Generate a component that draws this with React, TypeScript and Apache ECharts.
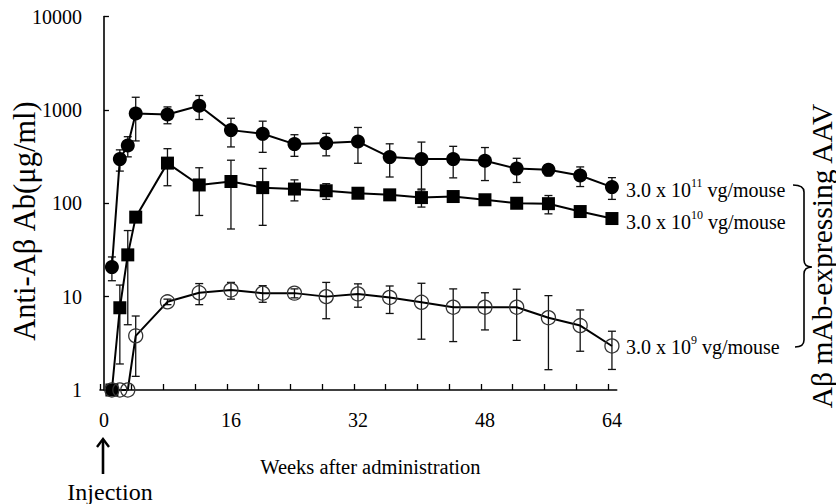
import React, { useEffect, useRef } from "react";
import * as echarts from "echarts";

const weeks = [1, 2, 3, 4, 8, 12, 16, 20, 24, 28, 32, 36, 40, 44, 48, 52, 56, 60, 64];
const highMean = [20.7, 297, 415, 915, 893, 1107, 607, 554, 430, 441, 458, 312, 297, 297, 285, 235, 228, 198, 149];
const highSD = [5.9, 76, 101, 450, 183, 318, 206, 203, 112, 119, 190, 121, 155, 110, 110, 68, 31, 47, 39];
const midMean = [1, 7.6, 28, 71, 269, 157, 171, 147, 142, 136, 128, 123, 115, 118, 109, 100, 99, 81.5, 68.6];
const midSD = [0, 5.7, 23, 5, 115, 83, 118, 89, 36, 26, 10, 8, 24, 6, 5, 5, 22, 4, 4];
const lowMean = [1, 1, 1, 3.8, 8.8, 11.0, 11.8, 10.9, 10.9, 10.0, 10.7, 9.8, 8.7, 7.7, 7.7, 7.7, 5.95, 4.9, 2.96];
const lowSD = [0, 0, 0, 2.4, 0.6, 2.8, 2.4, 2.2, 1.2, 4.2, 3.0, 3.2, 5.2, 4.4, 3.3, 4.3, 4.3, 2.3, 1.3];

const xTickLabels = [0, 16, 32, 48, 64];
const yTickLabels = [1, 10, 100, 1000, 10000];
const doseExponents = ["11", "10", "9"];
const seriesNames = ["3.0 x 10^11 vg/mouse", "3.0 x 10^10 vg/mouse", "3.0 x 10^9 vg/mouse"];
const yAxisTitle = "Anti-Aβ Ab(μg/ml)";
const xAxisTitle = "Weeks after administration";
const groupTitle = "Aβ mAb-expressing AAV";
const injectionText = "Injection";

const FONT = "'Liberation Serif', 'Times New Roman', serif";

function errData(means: number[], sds: number[]) {
  const out: number[][] = [];
  weeks.forEach((w, i) => {
    if (sds[i] > 0) out.push([w, Math.max(means[i] - sds[i], 1), means[i] + sds[i]]);
  });
  return out;
}

function errSeries(means: number[], sds: number[]) {
  return {
    type: "custom",
    data: errData(means, sds),
    encode: { x: 0, y: [1, 2] },
    clip: false,
    silent: true,
    renderItem: (params: any, api: any) => {
      const x = api.value(0);
      const lo = api.coord([x, api.value(1)]);
      const hi = api.coord([x, api.value(2)]);
      const w = 4;
      const style = { stroke: "#111", lineWidth: 1.3 };
      return {
        type: "group",
        children: [
          { type: "line", shape: { x1: lo[0], y1: lo[1], x2: hi[0], y2: hi[1] }, style },
          { type: "line", shape: { x1: lo[0] - w, y1: lo[1], x2: lo[0] + w, y2: lo[1] }, style },
          { type: "line", shape: { x1: hi[0] - w, y1: hi[1], x2: hi[0] + w, y2: hi[1] }, style },
        ],
      };
    },
  };
}

const richStyles = {
  a: { fontSize: 20, fontFamily: FONT, color: "#000", lineHeight: 26 },
  s: { fontSize: 12, fontFamily: FONT, color: "#000", lineHeight: 12, verticalAlign: "top" },
};

function endLabel(exp: string) {
  return {
    show: true,
    distance: 14,
    offset: [0, 3],
    formatter: () => `{a|3.0 x 10}{s|${exp}}{a| vg/mouse}`,
    rich: richStyles,
  };
}

export default function App() {
  const ref = useRef<HTMLDivElement>(null);
  useEffect(() => {
    if (!ref.current) return;
    const braceD =
      "M 793 185 Q 804 185 804 192 L 804 260 Q 804 267 812 267 Q 804 267 804 274 L 804 340 Q 804 347 795 347";
    echarts.graphic.registerShape("brace", echarts.graphic.extendPath(braceD, {}));
    const chart = echarts.init(ref.current, undefined, { renderer: "svg" });
    const ticks: number[] = [];
    for (let k = 0; k <= 16; k++) ticks.push(-0.5 + 4 * k);

    const option: any = {
      animation: false,
      backgroundColor: "#fff",
      grid: { left: 100, top: 16.5, right: 219.3, bottom: 114, containLabel: false, outerBoundsMode: "none" },
      xAxis: {
        type: "value",
        min: -0.5,
        max: 64.6,
        name: xAxisTitle,
        nameLocation: "middle",
        nameGap: 66,
        nameTextStyle: { fontFamily: FONT, fontSize: 20.5, color: "#000", padding: [0, 0, 0, 24] },
        axisLine: { lineStyle: { color: "#000", width: 1.6 } },
        axisTick: { inside: true, length: 6, customValues: ticks, lineStyle: { color: "#000", width: 1.3 } },
        axisLabel: {
          customValues: xTickLabels,
          fontFamily: FONT,
          fontSize: 20,
          color: "#000",
          margin: 20,
          formatter: (v: number) => String(Math.round(v)),
        },
        splitLine: { show: false },
      },
      yAxis: {
        type: "log",
        logBase: 10,
        min: yTickLabels[0],
        max: yTickLabels[yTickLabels.length - 1],
        axisLine: { show: true, lineStyle: { color: "#000", width: 1.6 } },
        axisTick: { show: true, inside: true, length: 5, lineStyle: { color: "#000", width: 1.3 } },
        axisLabel: {
          fontFamily: FONT,
          fontSize: 20,
          color: "#000",
          margin: 18,
          formatter: (v: number) => String(Math.round(v)),
        },
        splitLine: { show: false },
        minorTick: { show: false },
      },
      series: [
        errSeries(highMean, highSD),
        errSeries(midMean, midSD),
        errSeries(lowMean, lowSD),
        {
          name: seriesNames[0],
          type: "line",
          data: weeks.map((w, i) => [w, highMean[i]]),
          symbol: "circle",
          symbolSize: 14,
          clip: false,
          itemStyle: { color: "#000" },
          lineStyle: { color: "#000", width: 2 },
          endLabel: endLabel(doseExponents[0]),
        },
        {
          name: seriesNames[1],
          type: "line",
          data: weeks.map((w, i) => [w, midMean[i]]),
          symbol: "rect",
          symbolSize: 13,
          clip: false,
          itemStyle: { color: "#000" },
          lineStyle: { color: "#000", width: 2 },
          endLabel: endLabel(doseExponents[1]),
        },
        {
          name: seriesNames[2],
          type: "line",
          data: weeks.map((w, i) => [w, lowMean[i]]),
          symbol: "circle",
          symbolSize: 14,
          clip: false,
          itemStyle: { color: "rgba(0,0,0,0)", borderColor: "#333", borderWidth: 1.3 },
          lineStyle: { color: "#000", width: 2 },
          endLabel: { ...endLabel(doseExponents[2]), offset: [0, 1] },
        },
      ],
      graphic: [
        { type: "brace", x: 0, y: 0, style: { fill: "none", stroke: "#000", lineWidth: 1.6 } },
        {
          type: "text",
          x: 25,
          y: 221,
          rotation: Math.PI / 2,
          style: {
            text: yAxisTitle,
            fontFamily: FONT,
            fontSize: 30.5,
            fill: "#000",
            align: "center",
            verticalAlign: "middle",
          },
        },
        {
          type: "text",
          x: 822,
          y: 256,
          rotation: Math.PI / 2,
          style: {
            text: groupTitle,
            fontFamily: FONT,
            fontSize: 29.5,
            fill: "#000",
            align: "center",
            verticalAlign: "middle",
          },
        },
        {
          type: "text",
          x: 110,
          y: 492,
          style: {
            text: injectionText,
            fontFamily: FONT,
            fontSize: 24,
            fill: "#000",
            align: "center",
            verticalAlign: "middle",
          },
        },
        { type: "line", shape: { x1: 103, y1: 474, x2: 103, y2: 440 }, style: { stroke: "#000", lineWidth: 2.6 } },
        {
          type: "polyline",
          shape: { points: [[97, 447], [103, 439], [109, 447]] },
          style: { stroke: "#000", lineWidth: 2.4, fill: "none" },
        },
      ],
    };
    chart.setOption(option);
    return () => chart.dispose();
  }, []);
  return <div ref={ref} style={{ position: "absolute", left: 0, top: 0, width: 836, height: 504 }} />;
}
